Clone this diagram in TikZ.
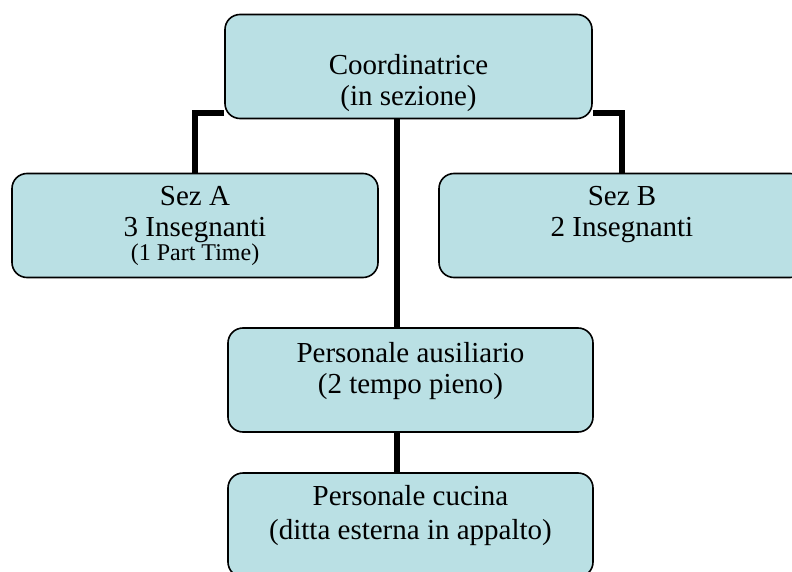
\documentclass[tikz,border=0pt]{standalone}
\usepackage{fontspec}
\setmainfont{Liberation Serif}
\usetikzlibrary{backgrounds}

\definecolor{boxfill}{RGB}{186,224,228}

\tikzset{
  orgbox/.style = {draw = black, line width = 1.6pt, fill = boxfill,
    rounded corners = 15pt, minimum width = 366pt, minimum height = 104pt,
    inner sep = 0pt},
  orgtext/.style = {anchor = north, align = center, inner sep = 0pt,
    font = \fontsize{29}{31}\selectfont},
  link/.style = {draw = black, line width = 6pt}
}

\begin{document}
\begin{tikzpicture}[x = 1pt, y = -1pt]
        \useasboundingbox (0,0) rectangle (792,572);
        \clip (0,0) rectangle (792,572);

        % boxes
        \node[orgbox, minimum width = 367pt] (coord) at (408.5,66.5) {};
        \node[orgbox] (sezA) at (195,225.5) {};
        \node[orgbox] (sezB) at (622,225.5) {};
        \node[orgbox, minimum width = 365pt] (aus) at (410.5,380) {};
        \node[orgbox, minimum width = 365pt] (cuc) at (410.5,525) {};

        % texts
        \node[orgtext] (coordtext) at (408.5,54) {Coordinatrice\\(in sezione)};
        \node[orgtext] (sezAtext) at (195,186)
            {Sez A\\3 Insegnanti\\[-7pt]{\fontsize{24}{26}\selectfont (1 Part Time)}};
        \node[orgtext] (sezBtext) at (622,186) {Sez B\\2 Insegnanti};
        \node[orgtext] (austext) at (410.5,342) {Personale ausiliario\\(2 tempo pieno)};
        \node[orgtext] (cuctext) at (410.5,485)
            {Personale cucina\\[3pt](ditta esterna in appalto)};

        % connectors
        \begin{scope}[on background layer]
            \draw[link] ([yshift = 6pt]coord.south west) -| (sezA.north);
            \draw[link] ([yshift = 6pt]coord.south east) -| (sezB.north);
            \draw[link] ([xshift = -11.5pt]coord.south) -- ([xshift = -13.5pt]aus.north);
            \draw[link] ([xshift = -13.5pt]aus.south) -- ([xshift = -13.5pt]cuc.north);
        \end{scope}
\end{tikzpicture}
\end{document}
